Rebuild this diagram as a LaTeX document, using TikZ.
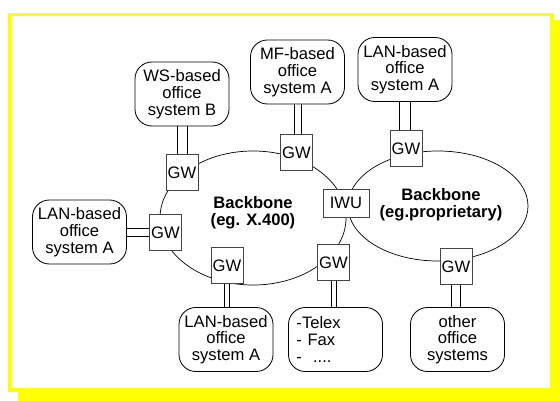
\documentclass[tikz,border=0pt]{standalone}
\usepackage{fontspec}
\setmainfont{Liberation Sans}
\usepackage{tikz}
\usetikzlibrary{shapes.geometric}
\definecolor{FrameYellow}{HTML}{FFFF00}
\definecolor{GwLine}{HTML}{444444}

\begin{document}
\begin{tikzpicture}[x=0.025cm, y=-0.025cm,
  font=\fontsize{11.8}{11.9}\selectfont,
  office/.style={draw, rounded corners=12pt, fill=white, line width=0.6pt,
                 minimum width=2.35cm, minimum height=1.6cm, inner sep=1pt,
                 align=center},
  gw/.style={draw=GwLine, fill=white, line width=0.6pt,
             minimum width=0.8cm, minimum height=0.88cm, inner sep=0pt},
  backbone/.style={draw, ellipse, line width=0.5pt, inner sep=0pt},
  bblabel/.style={font=\fontsize{11.8}{11.9}\selectfont\bfseries, align=center},
  link/.style={line width=0.6pt, shorten >=0pt},
]
\useasboundingbox (0,0) rectangle (560,401);

%% ---- frame with shadow ----
\fill[FrameYellow] (18,20) rectangle (560,401);
\draw[FrameYellow, fill=white, line width=2.2pt] (9.5,14.5) rectangle (552,390);

%% ---- the two backbones ----
\node[backbone, minimum width=4.65cm, minimum height=3.35cm] (x400) at (253,218) {};
\node[backbone, minimum width=4.5cm, minimum height=2.75cm] (prop) at (438,206) {};
\node[bblabel] (x400lbl) at (253,213) {Backbone\\(eg. X.400)};
\node[bblabel] (proplbl) at (441,205) {Backbone\\(eg.proprietary)};

%% ---- office systems ----
\node[office] (wsB) at (182,94) {WS-based\\office\\system B};
\node[office] (mfA) at (297.5,72) {MF-based\\office\\system A};
\node[office] (lanT) at (405,69.5) {LAN-based\\office\\system A};
\node[office] (lanL) at (79.5,232) {LAN-based\\office\\system A};
\node[office] (lanB) at (226,339.5) {LAN-based\\office\\system A};
\node[office, align=left, text width=1.95cm, inner xsep=0.2cm] (telex)
  at (335.5,339.5) {-Telex\\- Fax\\-\ \ ....};
\node[office] (other) at (457.5,339.5) {other\\office\\systems};

%% ---- gateways ----
\node[gw] (gwWS) at (182,172.5) {GW};
\node[gw] (gwMF) at (296.5,152.5) {GW};
\node[gw] (gwLT) at (406,148.5) {GW};
\node[gw] (gwL) at (165.5,232.5) {GW};
\node[gw] (gwB) at (227,265.5) {GW};
\node[gw] (gwTx) at (333.5,262.5) {GW};
\node[gw] (gwO) at (456,266.5) {GW};
\node[gw, minimum width=1.15cm, minimum height=0.7cm] (iwu) at (346,203) {IWU};

%% ---- links (pairs of parallel lines) ----
\foreach \a/\b/\d in {wsB/gwWS/5, mfA/gwMF/3.5, lanT/gwLT/5.5}
  \foreach \s in {-1,1}
    \draw[link] ([xshift=\s*\d*0.025cm]\a.south)
      -- ([xshift=\s*\d*0.025cm]\a.south |- \b.north);
\foreach \a/\b/\d in {gwB/lanB/2.5, gwTx/telex/2.5, gwO/other/4.5}
  \foreach \s in {-1,1}
    \draw[link] ([xshift=\s*\d*0.025cm]\a.south)
      -- ([xshift=\s*\d*0.025cm]\a.south |- \b.north);
\foreach \s in {-1,1}
  \draw[link] ([yshift=\s*4*0.025cm]lanL.east)
    -- ([yshift=\s*4*0.025cm]lanL.east -| gwL.west);
\end{tikzpicture}
\end{document}
